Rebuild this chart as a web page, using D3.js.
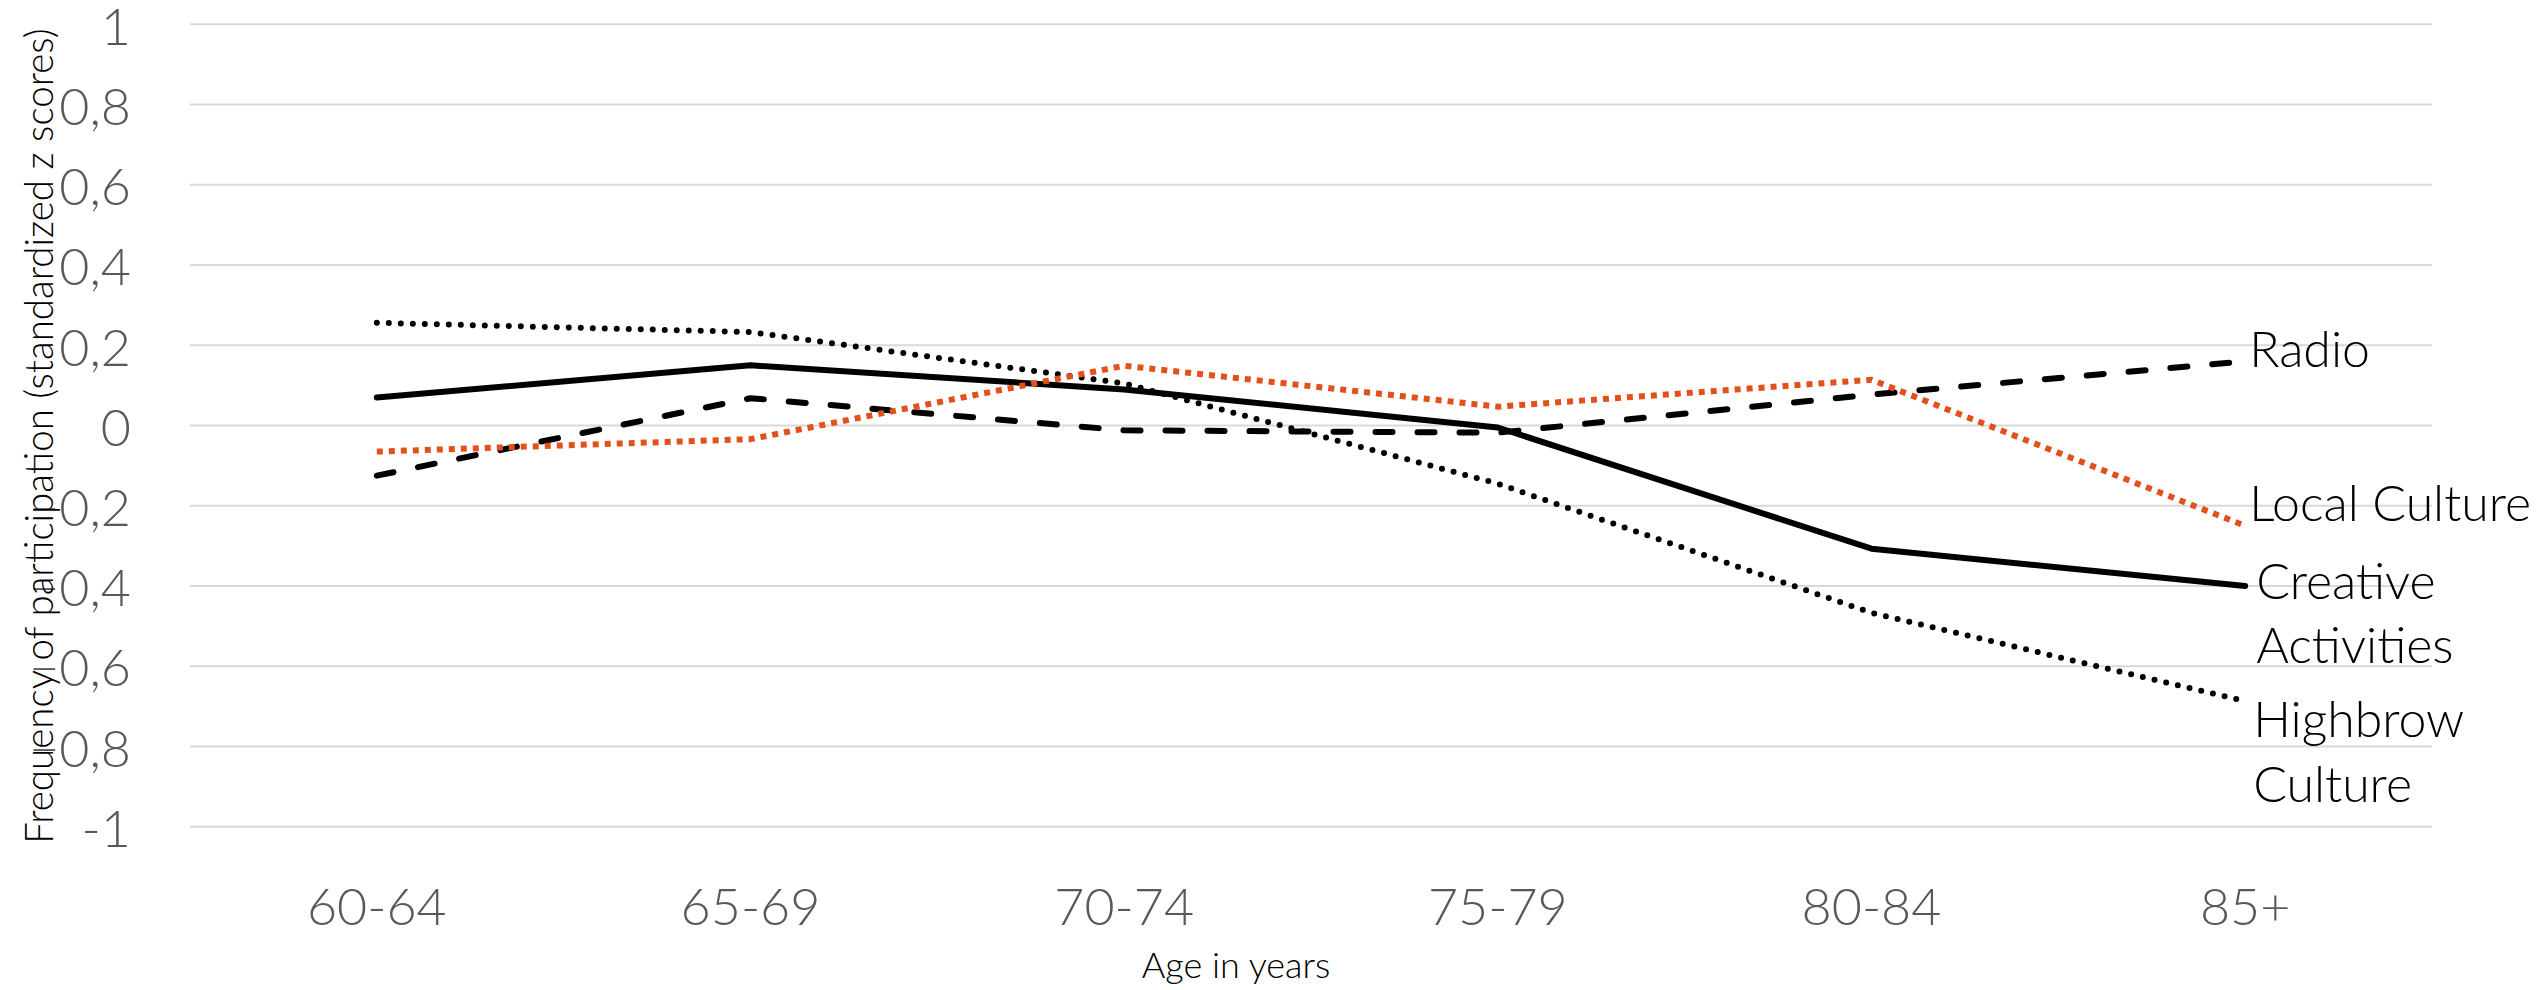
<!DOCTYPE html>
<html>
<head>
<meta charset="utf-8">
<script src="https://cdn.jsdelivr.net/npm/d3@7"></script>
<style>
  html, body { margin: 0; padding: 0; background: #ffffff; }
  svg { display: block; }
  text { font-family: "Source Sans Pro", "Lato", "Open Sans", sans-serif; }
</style>
</head>
<body>
<svg id="chart" width="2544" height="990"></svg>
<script>
// ---- data ----
const categories = ["60-64", "65-69", "70-74", "75-79", "80-84", "85+"];
const creativeActivities = [0.07, 0.15, 0.09, -0.005, -0.307, -0.40];
const radio = [-0.125, 0.068, -0.012, -0.018, 0.077, 0.16];
const localCulture = [-0.065, -0.034, 0.149, 0.047, 0.114, -0.25];
const highbrowCulture = [0.256, 0.233, 0.105, -0.145, -0.467, -0.687];
const yTickValues = [1, 0.8, 0.6, 0.4, 0.2, 0, -0.2, -0.4, -0.6, -0.8, -1];
const yTitle = "Frequency of participation (standardized z scores)";
const xTitle = "Age in years";

const seriesList = [
  { name: "Radio", lines: ["Radio"], values: radio },
  { name: "Local Culture", lines: ["Local Culture"], values: localCulture },
  { name: "Creative Activities", lines: ["Creative", "Activities"], values: creativeActivities },
  { name: "Highbrow Culture", lines: ["Highbrow", "Culture"], values: highbrowCulture }
];

// ---- styles ----
const styles = {
  "Radio": { stroke: "#000000", width: 6, dash: "17,25", cap: "round" },
  "Local Culture": { stroke: "#E2501B", width: 6, dash: "6,6", cap: "butt" },
  "Creative Activities": { stroke: "#000000", width: 6, dash: null, cap: "round" },
  "Highbrow Culture": { stroke: "#000000", width: 6, dash: "0,12", cap: "round" }
};
// label offsets of first baseline relative to line end
const labelLayout = {
  "Radio": { dx: 4, dy: 6 },
  "Local Culture": { dx: 4, dy: -5 },
  "Creative Activities": { dx: 11, dy: 13 },
  "Highbrow Culture": { dx: 8, dy: 36 }
};

const svg = d3.select("#chart");
const W = 2544, H = 990;
const margin = { left: 190, right: W - 2432, top: 24.3, bottom: H - 826.7 };

const x = d3.scaleBand().domain(categories).range([margin.left, W - margin.right]);
const y = d3.scaleLinear().domain([-1, 1]).range([H - margin.bottom, margin.top]);
const cx = c => x(c) + x.bandwidth() / 2;

const fmt = v => v === 0 ? "0" : (Number.isInteger(v) ? String(v) : d3.format(".1f")(v).replace(".", ","));

// gridlines
svg.append("g").selectAll("line").data(yTickValues).join("line")
  .attr("x1", margin.left).attr("x2", W - margin.right)
  .attr("y1", d => y(d)).attr("y2", d => y(d))
  .attr("stroke", "#d9d9d9").attr("stroke-width", 2);

// y axis tick labels
const yAxis = d3.axisLeft(y).tickValues(yTickValues).tickFormat(fmt).tickSize(0).tickPadding(0);
const gy = svg.append("g").attr("transform", `translate(131,0)`).call(yAxis);
gy.select(".domain").remove();
gy.selectAll("text")
  .attr("fill", "#595959").attr("font-size", 52).attr("font-weight", 300)
  .attr("font-family", "'Source Sans Pro', Lato, sans-serif")
  .attr("dy", "0.38em");

// x axis tick labels
const xAxis = d3.axisBottom(x).tickSize(0).tickPadding(0);
const gx = svg.append("g").attr("transform", `translate(0,925)`).call(xAxis);
gx.select(".domain").remove();
gx.selectAll("text")
  .attr("fill", "#595959").attr("font-size", 52).attr("font-weight", 300)
  .attr("font-family", "'Source Sans Pro', Lato, sans-serif")
  .attr("dy", 0).attr("y", 0);

// axis titles
svg.append("text")
  .attr("transform", `translate(53,436) rotate(-90)`)
  .attr("text-anchor", "middle")
  .attr("font-size", 38.5).attr("font-weight", 300).attr("fill", "#000")
  .text(yTitle);

svg.append("text")
  .attr("x", 1236).attr("y", 978)
  .attr("text-anchor", "middle")
  .attr("font-size", 36).attr("font-weight", 300).attr("fill", "#000")
  .text(xTitle);

// lines
const line = d3.line().x((d, i) => cx(categories[i])).y(d => y(d));
const drawOrder = ["Highbrow Culture", "Creative Activities", "Radio", "Local Culture"];
drawOrder.forEach(name => {
  const s = seriesList.find(d => d.name === name);
  const st = styles[name];
  svg.append("path")
    .datum(s.values)
    .attr("d", line)
    .attr("fill", "none")
    .attr("stroke", st.stroke)
    .attr("stroke-width", st.width)
    .attr("stroke-dasharray", st.dash)
    .attr("stroke-linecap", st.cap)
    .attr("stroke-linejoin", "round");
});

// end labels
seriesList.forEach(s => {
  const lastIdx = categories.length - 1;
  const lx = cx(categories[lastIdx]) + labelLayout[s.name].dx;
  const ly = y(s.values[lastIdx]) + labelLayout[s.name].dy;
  const t = svg.append("text")
    .attr("x", lx).attr("y", ly)
    .attr("font-size", 50).attr("font-weight", 300).attr("fill", "#000");
  s.lines.forEach((ln, i) => {
    t.append("tspan").attr("x", lx).attr("dy", i === 0 ? 0 : 64.5).text(ln);
  });
});
</script>
</body>
</html>
